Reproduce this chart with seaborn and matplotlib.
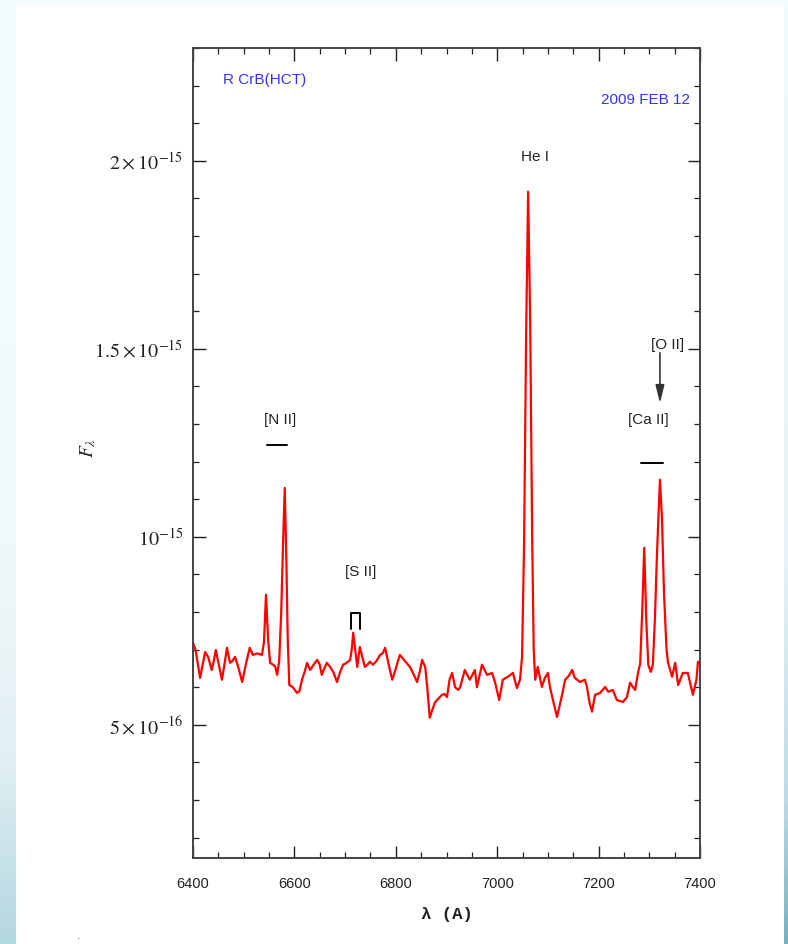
import numpy as np
import pandas as pd
import matplotlib
matplotlib.use("Agg")
import matplotlib.pyplot as plt
import seaborn as sns
from matplotlib.colors import LinearSegmentedColormap
from matplotlib.ticker import FixedLocator, MultipleLocator

# R CrB spectrum, HCT, 2009 Feb 12 (flux in units of 1e-15)
wavelength = [
    6400, 6405, 6414, 6419, 6424, 6430, 6437, 6441, 6445, 6451, 6457, 6462,
    6467, 6473, 6478, 6483, 6490, 6497, 6504, 6512, 6518, 6527, 6536, 6540,
    6544, 6548, 6552, 6558, 6562, 6566, 6570, 6574, 6578, 6581, 6584, 6587,
    6590, 6597, 6605, 6610, 6615, 6620, 6625, 6631, 6638, 6645, 6650, 6654,
    6659, 6664, 6670, 6677, 6684, 6690, 6696, 6703, 6710, 6713, 6716, 6720,
    6724, 6729, 6734, 6739, 6744, 6749, 6755, 6762, 6769, 6774, 6779, 6786,
    6793, 6800, 6808, 6815, 6821, 6828, 6835, 6842, 6847, 6852, 6858, 6862,
    6867, 6872, 6877, 6884, 6891, 6896, 6901, 6906, 6911, 6917, 6923, 6927,
    6936, 6946, 6956, 6960, 6970, 6980, 6990, 6996, 7004, 7011, 7021, 7031,
    7039, 7045, 7049, 7053, 7057, 7061, 7065, 7069, 7072, 7075, 7080, 7088,
    7094, 7100, 7104, 7111, 7118, 7123, 7128, 7134, 7141, 7148, 7153, 7158,
    7163, 7173, 7177, 7182, 7187, 7193, 7203, 7213, 7219, 7228, 7236, 7248,
    7256, 7262, 7268, 7272, 7278, 7282, 7286, 7290, 7294, 7298, 7303, 7307,
    7311, 7315, 7321, 7325, 7329, 7334, 7337, 7345, 7351, 7357, 7366, 7376,
    7386, 7393, 7396, 7400,
]
flux = [
    0.718, 0.700, 0.625, 0.660, 0.694, 0.680, 0.646, 0.670, 0.699, 0.660, 0.620, 0.660,
    0.705, 0.665, 0.670, 0.681, 0.650, 0.614, 0.660, 0.705, 0.686, 0.690, 0.686, 0.720,
    0.846, 0.730, 0.665, 0.660, 0.655, 0.633, 0.670, 0.800, 1.000, 1.130, 0.950, 0.720,
    0.606, 0.600, 0.585, 0.590, 0.620, 0.640, 0.665, 0.646, 0.660, 0.673, 0.660, 0.633,
    0.650, 0.665, 0.655, 0.640, 0.614, 0.640, 0.660, 0.665, 0.673, 0.700, 0.745, 0.700,
    0.654, 0.707, 0.680, 0.654, 0.660, 0.668, 0.660, 0.670, 0.686, 0.690, 0.705, 0.660,
    0.620, 0.650, 0.686, 0.675, 0.665, 0.654, 0.635, 0.614, 0.640, 0.673, 0.654, 0.600,
    0.519, 0.540, 0.559, 0.570, 0.580, 0.582, 0.574, 0.620, 0.638, 0.600, 0.593, 0.600,
    0.646, 0.620, 0.646, 0.600, 0.660, 0.633, 0.638, 0.612, 0.566, 0.620, 0.628, 0.638,
    0.598, 0.620, 0.680, 0.980, 1.530, 1.918, 1.580, 1.000, 0.700, 0.620, 0.654, 0.601,
    0.625, 0.638, 0.601, 0.560, 0.521, 0.550, 0.580, 0.620, 0.630, 0.646, 0.625, 0.620,
    0.614, 0.620, 0.601, 0.560, 0.535, 0.580, 0.585, 0.601, 0.588, 0.593, 0.566, 0.561,
    0.574, 0.612, 0.600, 0.593, 0.640, 0.663, 0.800, 0.971, 0.780, 0.660, 0.641, 0.660,
    0.780, 0.950, 1.152, 1.050, 0.850, 0.700, 0.665, 0.628, 0.665, 0.606, 0.638, 0.638,
    0.580, 0.620, 0.668, 0.660,
]
FLUX_UNIT = 1e-15

xtick_values = [6400, 6600, 6800, 7000, 7200, 7400]
ytick_values = [0.5e-15, 1.0e-15, 1.5e-15, 2.0e-15]
ytick_labels = [r"$5\times10^{-16}$", r"$10^{-15}$",
                r"$1.5\times10^{-15}$", r"$2\times10^{-15}$"]

sns.set_theme(style="ticks")
plt.rcParams["font.family"] = ["Liberation Sans", "DejaVu Sans"]
plt.rcParams["mathtext.fontset"] = "stix"

W, H = 788, 944
fig = plt.figure(figsize=(W / 100, H / 100), dpi=100)
fig.patch.set_facecolor("white")

# slide-style frame behind the plot
bg = fig.add_axes([0, 0, 1, 1], zorder=-10)
bg.axis("off")
grad = np.linspace(0, 1, 256)[:, None]
left_cm = LinearSegmentedColormap.from_list(
    "left", [(0, "#f5fcfd"), (0.55, "#f2f9fb"), (0.8, "#e2f0f4"), (1, "#b3d7e0")])
right_cm = LinearSegmentedColormap.from_list(
    "right", [(0, "#f2fafb"), (0.6, "#e6f2f5"), (0.85, "#bcdbe3"), (1, "#74b1c2")])
bg.imshow(grad, extent=[0, 16, H, 0], cmap=left_cm, aspect="auto")
bg.imshow(grad, extent=[784, W, H, 0], cmap=right_cm, aspect="auto")
bg.fill_between([0, W], 0, 5, color="#f3fbfc", lw=0)
bg.set_xlim(0, W)
bg.set_ylim(H, 0)

ax = fig.add_axes([193 / W, 1 - 858 / H, 507 / W, 810 / H])
ax.set_facecolor("white")

df = pd.DataFrame({"wavelength": wavelength,
                   "flux": np.array(flux) * FLUX_UNIT})
sns.lineplot(data=df, x="wavelength", y="flux", ax=ax, color="red",
             lw=1.6, sort=False, estimator=None)

ax.set_xlim(6400, 7400)
ax.set_ylim(0.146e-15, 2.30e-15)

ax.xaxis.set_major_locator(FixedLocator(xtick_values))
ax.xaxis.set_minor_locator(MultipleLocator(50))
ax.yaxis.set_major_locator(FixedLocator(ytick_values))
ax.yaxis.set_minor_locator(MultipleLocator(1e-16))
ax.set_yticklabels(ytick_labels)
ax.set_xticklabels([str(v) for v in xtick_values])

ax.tick_params(which="both", direction="in", top=True, right=True,
               color="#222222")
ax.tick_params(which="major", length=9, width=1.0)
ax.tick_params(which="minor", length=4.5, width=0.9)
ax.tick_params(axis="x", which="major", pad=14, labelsize=10.5, labelcolor="#222222")
ax.tick_params(axis="y", which="major", pad=7, labelsize=14.5, labelcolor="#222222")
for s in ax.spines.values():
    s.set_color("#444444")
    s.set_linewidth(1.4)

ax.set_xlabel("")
ax.set_ylabel("")
fig.text(447 / W, 1 - 914 / H, "λ (A)", ha="center", va="center",
         fontsize=12.5, fontweight="bold",
         family=["Liberation Mono", "DejaVu Sans Mono"], color="#222222")
fig.text(88 / W, 1 - 448 / H, r"$F_\lambda$", ha="center", va="center",
         rotation=90, fontsize=14, color="#222222")

# labels in the panel
blue = "#3333ff"
ax.text(6459, 2.215e-15, "R CrB(HCT)", color=blue, fontsize=11,
        ha="left", va="center")
ax.text(7380, 2.162e-15, "2009 FEB 12", color=blue, fontsize=11,
        ha="right", va="center")

line_kw = dict(color="black", lw=1.4)
ax.text(7075, 2.011e-15, "He I", fontsize=11, ha="center", va="center",
        color="#222222")
ax.text(6572, 1.311e-15, "[N II]", fontsize=11, ha="center", va="center",
        color="#222222")
ax.plot([6546, 6585], [1.245e-15, 1.245e-15], **line_kw)
ax.text(6731, 0.907e-15, "[S II]", fontsize=11, ha="center", va="center",
        color="#222222")
ax.plot([6712, 6712, 6729, 6729],
        [0.755e-15, 0.798e-15, 0.798e-15, 0.755e-15], **line_kw)
ax.text(7337, 1.511e-15, "[O II]", fontsize=11, ha="center", va="center",
        color="#222222")
ax.annotate("", xy=(7321, 1.348e-15), xytext=(7321, 1.497e-15),
            arrowprops=dict(arrowstyle="-|>,head_length=0.9,head_width=0.22",
                            color="#333333", lw=1.2))
ax.text(7298, 1.311e-15, "[Ca II]", fontsize=11, ha="center", va="center",
        color="#222222")
ax.plot([7284, 7327], [1.197e-15, 1.197e-15], **line_kw)

fig.text(78 / W, 1 - 936 / H, ".", fontsize=8, color="#333333",
         ha="center", va="center")

fig.savefig("out.png", dpi=100, facecolor="white")
